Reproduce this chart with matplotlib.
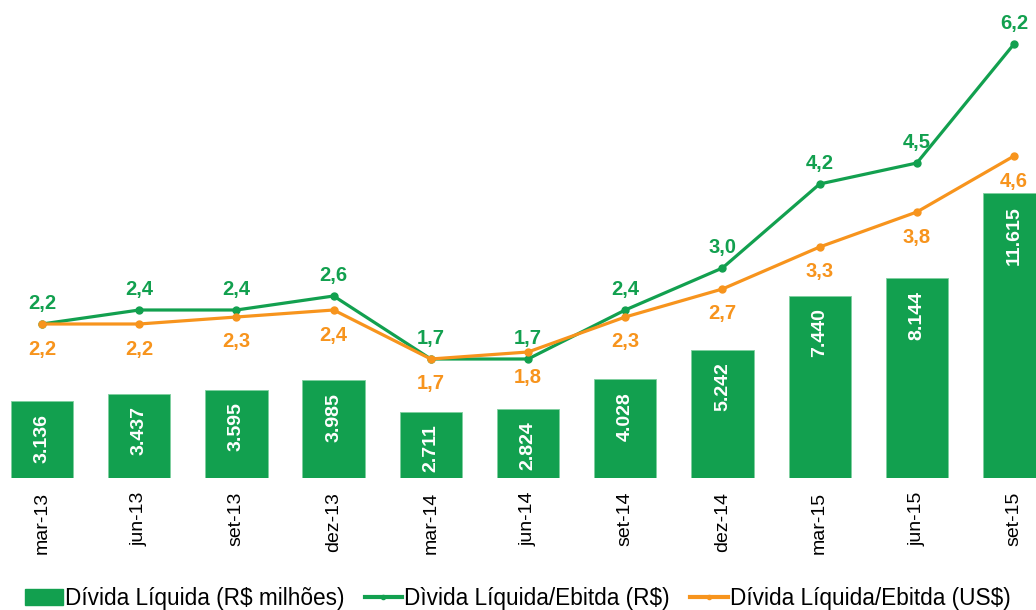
import numpy as np
import matplotlib.pyplot as plt
from matplotlib.patches import Patch
from matplotlib.lines import Line2D

# dados
periodos = ['mar-13', 'jun-13', 'set-13', 'dez-13', 'mar-14', 'jun-14',
            'set-14', 'dez-14', 'mar-15', 'jun-15', 'set-15']
divida_liq = [3136, 3437, 3595, 3985, 2711, 2824, 4028, 5242, 7440, 8144, 11615]
div_ebitda_rs = [2.2, 2.4, 2.4, 2.6, 1.7, 1.7, 2.4, 3.0, 4.2, 4.5, 6.2]
div_ebitda_us = [2.2, 2.2, 2.3, 2.4, 1.7, 1.8, 2.3, 2.7, 3.3, 3.8, 4.6]

verde = '#12A04F'
laranja = '#F7941D'

plt.rcParams['font.family'] = ['Liberation Sans', 'DejaVu Sans']

fig = plt.figure(figsize=(10.36, 6.10), dpi=100)
ax = fig.add_axes([0, 132 / 610, 1, 478 / 610])
x = np.arange(len(periodos))

# barras
ax.bar(x, divida_liq, width=0.64, color=verde, edgecolor='#7fcf9f', linewidth=0.6)
ax.set_xlim(-0.432, 10.226)
ax.set_ylim(0, 478 / 24.5 * 1000)
for xi, v in zip(x, divida_liq):
    txt = f'{v:,}'.replace(',', '.')
    ax.annotate(txt, (xi, v), xytext=(0, -9), textcoords='offset points',
                rotation=90, ha='center', va='top', color='white',
                fontsize=14, fontweight='bold')

ax.set_xticks(x)
ax.set_xticklabels(periodos, rotation=90, fontsize=14)
ax.tick_params(axis='x', length=0, pad=10)
ax.set_yticks([])
for s in ax.spines.values():
    s.set_visible(False)

# linhas
ax2 = ax.twinx()
ax2.set_ylim(0, 478 / 70)
ax2.plot(x, div_ebitda_rs, color=verde, lw=2.3, marker='o', ms=5)
ax2.plot(x, div_ebitda_us, color=laranja, lw=2.3, marker='o', ms=5)
for xi, v in zip(x, div_ebitda_rs):
    ax2.annotate(f'{v:.1f}'.replace('.', ','), (xi, v), xytext=(0, 15),
                 textcoords='offset points', ha='center', va='center',
                 color=verde, fontsize=14.5, fontweight='bold')
for xi, v in zip(x, div_ebitda_us):
    ax2.annotate(f'{v:.1f}'.replace('.', ','), (xi, v), xytext=(0, -18),
                 textcoords='offset points', ha='center', va='center',
                 color=laranja, fontsize=14.5, fontweight='bold')
ax2.set_yticks([])
for s in ax2.spines.values():
    s.set_visible(False)

# legenda
handles = [Patch(facecolor=verde, edgecolor=verde),
           Line2D([], [], color=verde, lw=3, marker='o', ms=3),
           Line2D([], [], color=laranja, lw=3, marker='o', ms=3)]
labels = ['Dívida Líquida (R$ milhões)', 'Dìvida Líquida/Ebitda (R$)',
          'Dívida Líquida/Ebitda (US$)']
fig.legend(handles, labels, loc='center', bbox_to_anchor=(0.5, 12 / 610),
           ncol=3, frameon=False, fontsize=16.3, handlelength=1.65,
           handleheight=0.7, handletextpad=0.1, columnspacing=0.9,
           borderaxespad=0, borderpad=0)

fig.savefig('out.png', dpi=100)
